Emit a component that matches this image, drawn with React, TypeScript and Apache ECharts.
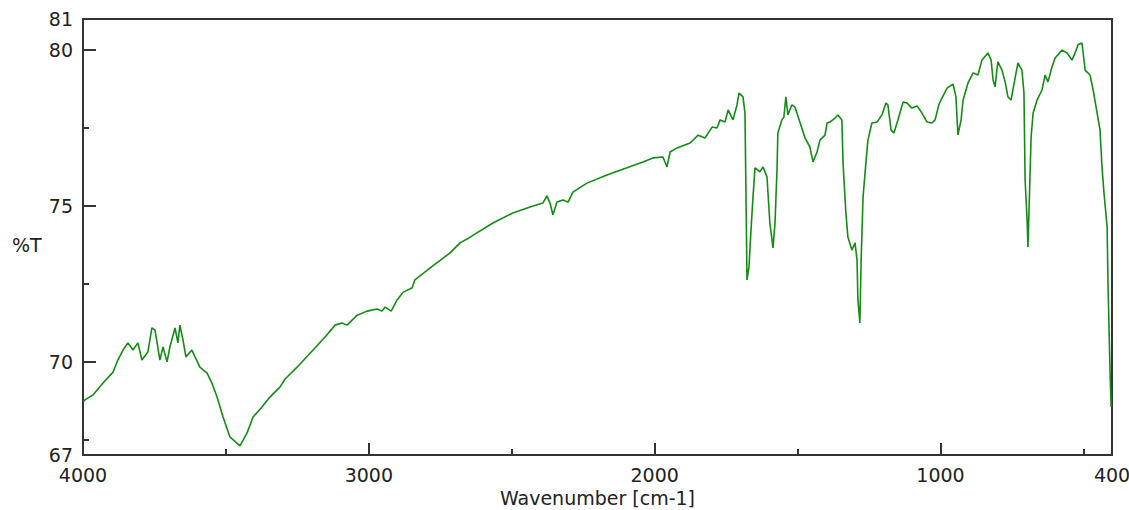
import React, { useEffect, useRef } from "react";
import * as echarts from "echarts";

// Wavenumber (cm-1) values of the trace
const wavenumbers: number[] = [
  4000, 3993, 3965, 3930, 3895, 3878, 3860, 3843, 3825, 3808, 3794, 3773, 3759, 3748, 3731, 3720, 3706, 3696,
  3678, 3668, 3661, 3650, 3640, 3619, 3608, 3591, 3566, 3549, 3531, 3510, 3486, 3451, 3426, 3405, 3374, 3346,
  3311, 3293, 3251, 3195, 3153, 3118, 3094, 3076, 3041, 3006, 2971, 2954, 2943, 2922, 2901, 2880, 2849, 2839,
  2776, 2716, 2681, 2650, 2566, 2496, 2436, 2391, 2377, 2366, 2356, 2342, 2321, 2303, 2286, 2237, 2167, 2097,
  2041, 2006, 1971, 1957, 1946, 1922, 1876, 1848, 1824, 1799, 1782, 1771, 1754, 1743, 1726, 1712, 1705, 1691,
  1684, 1680, 1677, 1670, 1663, 1656, 1649, 1632, 1621, 1607, 1597, 1586, 1579, 1572, 1569, 1555, 1548, 1541,
  1534, 1520, 1509, 1492, 1474, 1457, 1446, 1432, 1422, 1404, 1397, 1387, 1369, 1359, 1345, 1341, 1331, 1324,
  1310, 1299, 1292, 1289, 1282, 1278, 1271, 1261, 1254, 1240, 1222, 1205, 1191, 1184, 1173, 1163, 1149, 1131,
  1117, 1100, 1082, 1065, 1047, 1030, 1019, 1005, 995, 977, 956, 946, 939, 928, 921, 904, 886, 869,
  855, 834, 823, 816, 809, 802, 799, 785, 774, 764, 753, 739, 729, 715, 708, 704, 697, 694,
  690, 683, 676, 662, 645, 634, 624, 610, 599, 575, 557, 540, 529, 519, 505, 494, 477, 466,
  452, 442, 435, 428, 417, 414, 407, 403,
];

// Transmittance (%T) values matching the wavenumbers above
const transmittance: number[] = [
  68.7, 68.77, 68.93, 69.31, 69.66, 70.05, 70.37, 70.6, 70.37, 70.6, 70.05, 70.31, 71.08, 71.01, 70.05, 70.47, 69.99, 70.47,
  71.08, 70.6, 71.17, 70.69, 70.15, 70.37, 70.15, 69.82, 69.63, 69.31, 68.86, 68.22, 67.58, 67.29, 67.71, 68.22, 68.54, 68.86,
  69.18, 69.44, 69.82, 70.37, 70.79, 71.17, 71.24, 71.17, 71.49, 71.62, 71.69, 71.62, 71.75, 71.62, 71.98, 72.23, 72.36, 72.62,
  73.07, 73.49, 73.81, 73.97, 74.45, 74.77, 74.96, 75.09, 75.32, 75.09, 74.71, 75.12, 75.19, 75.12, 75.44, 75.73, 75.99, 76.22,
  76.41, 76.54, 76.57, 76.25, 76.73, 76.86, 77.02, 77.27, 77.18, 77.53, 77.5, 77.76, 77.69, 78.08, 77.76, 78.24, 78.62, 78.5,
  77.98, 74.96, 72.62, 73.04, 74.22, 75.28, 76.22, 76.09, 76.25, 75.93, 74.45, 73.65, 74.45, 76.15, 77.34, 77.76, 77.85, 78.5,
  77.92, 78.24, 78.17, 77.69, 77.18, 76.89, 76.41, 76.73, 77.11, 77.27, 77.66, 77.69, 77.82, 77.92, 77.76, 76.38, 74.77, 74.0,
  73.58, 73.81, 73.26, 71.98, 71.24, 73.16, 75.28, 76.38, 77.11, 77.66, 77.69, 77.92, 78.3, 78.24, 77.44, 77.34, 77.76, 78.33,
  78.3, 78.14, 78.21, 77.98, 77.69, 77.66, 77.76, 78.27, 78.46, 78.78, 78.91, 78.5, 77.28, 77.76, 78.4, 78.94, 79.27, 79.2,
  79.68, 79.91, 79.68, 79.04, 78.82, 79.43, 79.62, 79.36, 78.98, 78.5, 78.4, 79.11, 79.59, 79.36, 78.62, 75.83, 74.55, 73.68,
  74.96, 77.21, 77.98, 78.4, 78.72, 79.2, 78.98, 79.46, 79.75, 80.0, 79.91, 79.68, 79.91, 80.17, 80.23, 79.36, 79.2, 78.72,
  77.98, 77.44, 76.25, 75.41, 74.32, 72.52, 69.73, 68.54,
];

const xLabelValues: number[] = [4000, 3000, 2000, 1000, 400];
const xMajorTicks: number[] = [3000, 2000, 1000];
const xMinorTicks: number[] = [3500, 2500, 1500, 500];
const yLabelValues: number[] = [81, 80, 75, 70, 67];
const yMajorTicks: number[] = [80, 75, 70];
const yMinorTicks: number[] = [77.5, 72.5, 67.5];

const X_MIN = 400;
const X_MAX = 4000;
const Y_MIN = 67;
const Y_MAX = 81;

const FONT = "DejaVu Sans";
const AXIS_COLOR = "#333333";
const LINE_COLOR = "#138c13";

export default function App() {
  const ref = useRef<HTMLDivElement>(null);

  useEffect(() => {
    if (!ref.current) return;
    const chart = echarts.init(ref.current, undefined, { renderer: "svg" });
    const data = wavenumbers.map((w, i) => [w, transmittance[i]]);
    const plain = (v: number) => String(v);

    const baseX = {
      type: "value" as const,
      min: X_MIN,
      max: X_MAX,
      inverse: true,
      position: "bottom" as const,
      splitLine: { show: false },
    };
    const baseY = {
      type: "value" as const,
      min: Y_MIN,
      max: Y_MAX,
      position: "left" as const,
      splitLine: { show: false },
    };

    chart.setOption({
      animation: false,
      backgroundColor: "#ffffff",
      grid: {
        left: 83,
        right: 17,
        top: 19,
        bottom: 55,
        containLabel: false,
        outerBoundsMode: "none",
        show: true,
        borderColor: AXIS_COLOR,
        borderWidth: 2,
        backgroundColor: "transparent",
      },
      xAxis: [
        {
          ...baseX,
          name: "Wavenumber [cm-1]",
          nameLocation: "middle",
          nameGap: 32,
          nameTextStyle: { fontFamily: FONT, fontSize: 19, color: "#222" },
          axisLine: { show: true, lineStyle: { color: AXIS_COLOR, width: 2 } },
          axisTick: {
            show: true,
            inside: true,
            length: 12,
            customValues: xMajorTicks,
            lineStyle: { color: AXIS_COLOR, width: 2 },
          },
          axisLabel: {
            show: true,
            customValues: xLabelValues,
            formatter: plain,
            margin: 10,
            fontFamily: FONT,
            fontSize: 19,
            lineHeight: 19,
            color: "#222",
          },
        },
        {
          ...baseX,
          axisLine: { show: false },
          axisLabel: { show: false },
          axisTick: {
            show: true,
            inside: true,
            length: 6,
            customValues: xMinorTicks,
            lineStyle: { color: AXIS_COLOR, width: 2 },
          },
        },
      ],
      yAxis: [
        {
          ...baseY,
          axisLine: { show: true, lineStyle: { color: AXIS_COLOR, width: 2 } },
          axisTick: {
            show: true,
            inside: true,
            length: 13,
            customValues: yMajorTicks,
            lineStyle: { color: AXIS_COLOR, width: 2 },
          },
          axisLabel: {
            show: true,
            customValues: yLabelValues,
            formatter: plain,
            margin: 10,
            fontFamily: FONT,
            fontSize: 19,
            lineHeight: 18,
            color: "#222",
          },
        },
        {
          ...baseY,
          axisLine: { show: false },
          axisLabel: { show: false },
          axisTick: {
            show: true,
            inside: true,
            length: 6,
            customValues: yMinorTicks,
            lineStyle: { color: AXIS_COLOR, width: 2 },
          },
        },
      ],
      graphic: [
        {
          type: "text",
          left: 12,
          top: 235,
          style: { text: "%T", fontFamily: FONT, fontSize: 19, fill: "#222" },
        },
      ],
      series: [
        {
          type: "line",
          xAxisIndex: 0,
          yAxisIndex: 0,
          data,
          showSymbol: false,
          symbol: "none",
          lineStyle: { color: LINE_COLOR, width: 1.6 },
          clip: true,
        },
      ],
    });

    return () => chart.dispose();
  }, []);

  return (
    <div
      ref={ref}
      style={{ position: "fixed", left: 0, top: 0, width: 1129, height: 510, background: "#fff" }}
    />
  );
}
